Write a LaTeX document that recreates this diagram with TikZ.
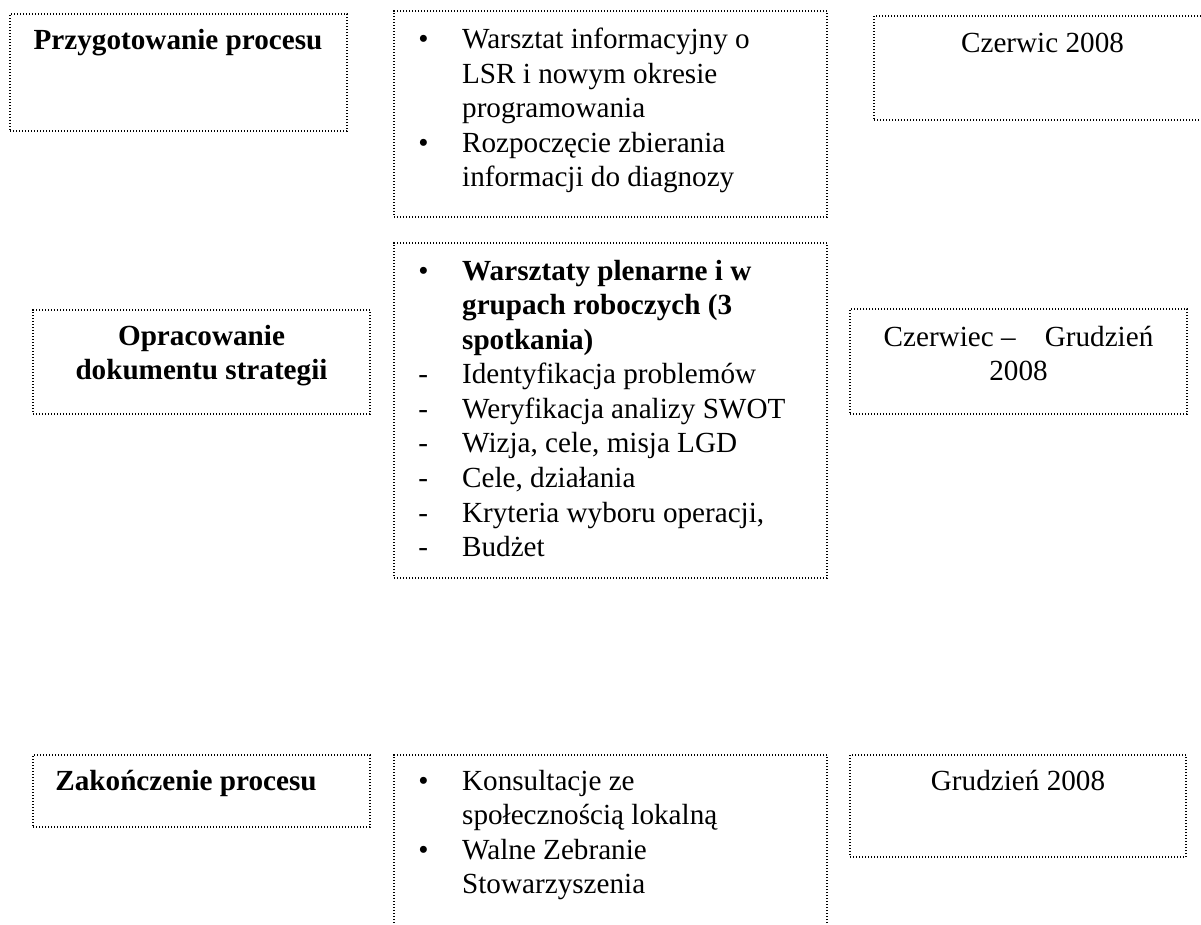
\documentclass[tikz,border=0pt]{standalone}
\usepackage{fontspec}
\setmainfont{Liberation Serif}
\usetikzlibrary{fit}
\tikzset{
  box/.style={draw, line width=0.6pt, dash pattern=on 0.7pt off 0.74pt, inner sep=0pt},
  head/.style={font=\fontsize{14}{16.6}\selectfont\bfseries, inner sep=0pt},
  plain/.style={font=\fontsize{14}{16.6}\selectfont, inner sep=0pt},
}
\newcommand{\bl}{\textbullet}
\begin{document}
\begin{tikzpicture}[x=0.48pt,y=-0.48pt]
\clip (0,0) rectangle (1201,924);
% frames
\node[box, fit={(10,14) (347,131)}] (prepbox) {};
\node[box, fit={(394,11) (827,217)}] (prepinfobox) {};
\node[box, fit={(874,16) (1215,120)}] (prepdatebox) {};
\node[box, fit={(33,310) (370,414)}] (devbox) {};
\node[box, fit={(394,243) (827,578)}] (devinfobox) {};
\node[box, fit={(850,309) (1187,414)}] (devdatebox) {};
\node[box, fit={(33,755) (370,827)}] (endbox) {};
\node[box, fit={(394,755) (827,940)}] (endinfobox) {};
\node[box, fit={(850,755) (1186,857)}] (enddatebox) {};
% stage names
\node[head, anchor=base] (preptext) at (178,49) {Przygotowanie procesu};
\node[head, anchor=base] (devtext) at (201.5,345)
  {\begin{tabular}[t]{@{}c@{}}Opracowanie\\dokumentu strategii\end{tabular}};
\node[head, anchor=base west] (endtext) at (55,790) {Zakończenie procesu};
% activities
\node[plain, anchor=base west] (prepinfotext) at (418,48.5)
  {\begin{tabular}[t]{@{}p{21pt}@{}l@{}}
  \bl & Warsztat informacyjny o\\
      & LSR i nowym okresie\\
      & programowania\\
  \bl & Rozpoczęcie zbierania\\
      & informacji do diagnozy
  \end{tabular}};
\node[plain, anchor=base west] (devinfotext) at (418,280)
  {\begin{tabular}[t]{@{}p{21pt}@{}l@{}}
  \bl & \textbf{Warsztaty plenarne i w}\\
      & \textbf{grupach roboczych (3}\\
      & \textbf{spotkania)}\\
  -   & Identyfikacja problemów\\
  -   & Weryfikacja analizy SWOT\\
  -   & Wizja, cele, misja LGD\\
  -   & Cele, działania\\
  -   & Kryteria wyboru operacji,\\
  -   & Budżet
  \end{tabular}};
\node[plain, anchor=base west] (endinfotext) at (418,790)
  {\begin{tabular}[t]{@{}p{21pt}@{}l@{}}
  \bl & Konsultacje ze\\
      & społecznością lokalną\\
  \bl & Walne Zebranie\\
      & Stowarzyszenia
  \end{tabular}};
% dates
\node[plain, anchor=base] (prepdatetext) at (1042.5,52) {Czerwic 2008};
\node[plain, anchor=base] (devdatetext) at (1018.5,346)
  {\begin{tabular}[t]{@{}c@{}}Czerwiec –\hspace{1em}Grudzień\\2008\end{tabular}};
\node[plain, anchor=base] (enddatetext) at (1018,790) {Grudzień 2008};
\end{tikzpicture}
\end{document}
